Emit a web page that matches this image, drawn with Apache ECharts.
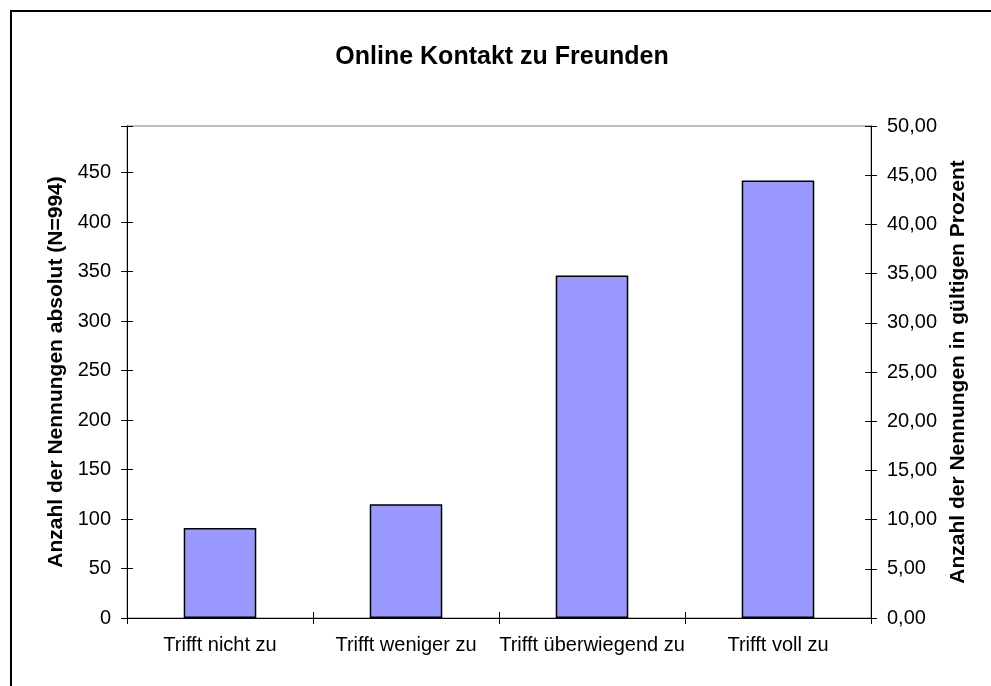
<!DOCTYPE html>
<html>
<head>
<meta charset="utf-8">
<script src="https://cdn.jsdelivr.net/npm/echarts@6/dist/echarts.min.js"></script>
<style>
  html, body { margin: 0; padding: 0; background: #fff; }
  #chart { width: 991px; height: 686px; }
  #frame { position: absolute; left: 10px; top: 10px; right: 0; bottom: 0;
           border-left: 2px solid #000; border-top: 2px solid #000; pointer-events: none; }
</style>
</head>
<body>
<div id="chart"></div>
<div id="frame"></div>
<script>
var CATEGORIES = ["Trifft nicht zu", "Trifft weniger zu", "Trifft überwiegend zu", "Trifft voll zu"];
var COUNTS = [91, 115, 346, 442];
var N = 994;
var LEFT_MAX = N / 2;     // 50 % of N, so both axes line up
var RIGHT_MAX = 50;

var FONT = "'Liberation Sans', Arial, sans-serif";
var labelStyle = { color: "#000", fontSize: 20, fontFamily: FONT };
var nameStyle = { color: "#000", fontSize: 21, fontWeight: "bold", fontFamily: FONT };
var blackLine = { show: true, lineStyle: { color: "#000", width: 1 } };
// Excel style "cross" ticks: a hidden axis shifted 6px inwards with 12px ticks
var crossTick = { show: true, length: 12, lineStyle: { color: "#000" } };

function fmtPct(v) { return v.toFixed(2).replace(".", ","); }

var chart = echarts.init(document.getElementById("chart"));
chart.setOption({
  animation: false,
  title: {
    text: "Online Kontakt zu Freunden", left: 497, top: 40, textAlign: "center",
    textStyle: { color: "#000", fontSize: 25, fontWeight: "bold", fontFamily: FONT }
  },
  grid: { left: 127, right: 120, top: 126, bottom: 68, show: true,
          borderColor: "#808080", borderWidth: 1, backgroundColor: "transparent" },
  xAxis: [
    { type: "category", data: CATEGORIES,
      axisLine: blackLine,
      axisTick: { show: true, length: 6, lineStyle: { color: "#000" } },
      axisLabel: Object.assign({ margin: 17, interval: 0 }, labelStyle) },
    { type: "category", data: CATEGORIES, position: "bottom",
      axisLine: blackLine, axisLabel: { show: false },
      axisTick: { show: true, inside: true, length: 6, lineStyle: { color: "#000" } } }
  ],
  yAxis: [
    { type: "value", min: 0, max: LEFT_MAX, interval: 50, position: "left",
      name: "Anzahl der Nennungen absolut (N=994)", nameLocation: "middle", nameGap: 54,
      nameTextStyle: nameStyle,
      axisLine: blackLine,
      axisTick: { show: false },
      axisLabel: Object.assign({ margin: 16, showMaxLabel: false }, labelStyle),
      splitLine: { show: false } },
    { type: "value", min: 0, max: RIGHT_MAX, interval: 5, position: "right",
      name: "Anzahl der Nennungen in gültigen Prozent", nameLocation: "middle", nameGap: 77,
      nameRotate: 90,
      nameTextStyle: nameStyle,
      axisLine: blackLine,
      axisTick: { show: false },
      axisLabel: Object.assign({ margin: 16, formatter: fmtPct }, labelStyle),
      splitLine: { show: false } },
    { type: "value", min: 0, max: LEFT_MAX, interval: 50, position: "left", offset: -6,
      axisLine: { show: false }, axisLabel: { show: false }, splitLine: { show: false },
      axisTick: crossTick },
    { type: "value", min: 0, max: RIGHT_MAX, interval: 5, position: "right", offset: -6,
      axisLine: { show: false }, axisLabel: { show: false }, splitLine: { show: false },
      axisTick: crossTick }
  ],
  series: [{
    type: "bar", data: COUNTS, xAxisIndex: 0, yAxisIndex: 0, barWidth: "39%",
    itemStyle: { color: "#9999FF", borderColor: "#000", borderWidth: 1.5 }
  }]
});
</script>
</body>
</html>
